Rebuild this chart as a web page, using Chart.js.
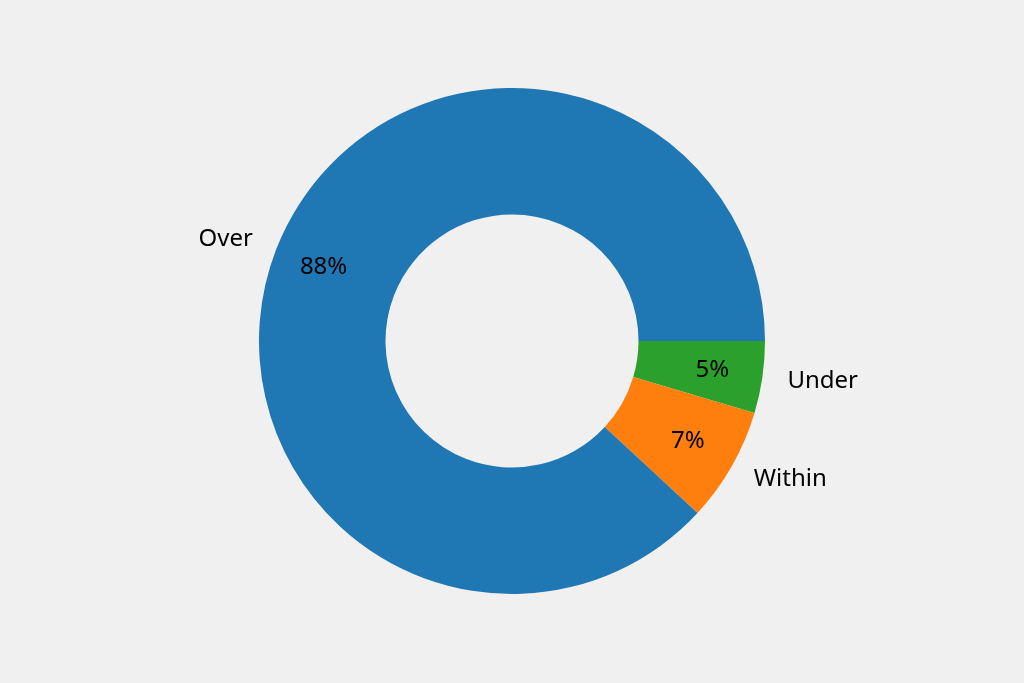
<!DOCTYPE html>
<html>
<head>
<meta charset="utf-8">
<script src="https://cdn.jsdelivr.net/npm/chart.js@4/dist/chart.umd.min.js"></script>
<style>
  html, body { margin: 0; padding: 0; background: #f0f0f0; }
  #wrap { width: 1024px; height: 683px; position: relative; }
</style>
</head>
<body>
<div id="wrap"><canvas id="donut"></canvas></div>
<script>
// Data, clockwise from 3 o'clock
const categories = ['Under', 'Within', 'Over'];
const shares = [4.6, 7.3, 88.1];
const sliceColors = ['#2ca02c', '#ff7f0e', '#1f77b4'];

const FONT = '"Noto Sans", sans-serif';

// Draw category names outside and percentages inside each slice
const sliceLabels = {
    id: 'sliceLabels',
    afterDatasetsDraw(chart) {
        const ctx = chart.ctx;
        const meta = chart.getDatasetMeta(0);
        const total = shares.reduce((a, b) => a + b, 0);
        ctx.save();
        ctx.fillStyle = '#000';
        ctx.textBaseline = 'middle';
        ctx.font = '24px ' + FONT;
        meta.data.forEach((arc, i) => {
            const p = arc.getProps(['x', 'y', 'startAngle', 'endAngle', 'outerRadius'], true);
            const mid = (p.startAngle + p.endAngle) / 2;
            const cos = Math.cos(mid), sin = Math.sin(mid);

            // outer label
            const lr = p.outerRadius * 1.1;
            ctx.textAlign = cos < 0 ? 'right' : 'left';
            ctx.fillText(categories[i], p.x + cos * lr, p.y + sin * lr);

            // percentage
            const pr = p.outerRadius * 0.8;
            ctx.textAlign = 'center';
            ctx.fillText(Math.round(shares[i] / total * 100) + '%', p.x + cos * pr, p.y + sin * pr);
        });
        ctx.restore();
    }
};

const ctx = document.getElementById('donut').getContext('2d');
new Chart(ctx, {
    type: 'doughnut',
    data: {
        labels: categories,
        datasets: [{
            data: shares,
            backgroundColor: sliceColors,
            borderWidth: 0
        }]
    },
    options: {
        responsive: true,
        maintainAspectRatio: false,
        animation: false,
        rotation: 90,
        cutout: '50%',
        layout: {
            padding: { top: 88, bottom: 89, left: 0, right: 0 }
        },
        plugins: {
            legend: { display: false },
            tooltip: { enabled: false }
        }
    },
    plugins: [sliceLabels]
});
</script>
</body>
</html>
